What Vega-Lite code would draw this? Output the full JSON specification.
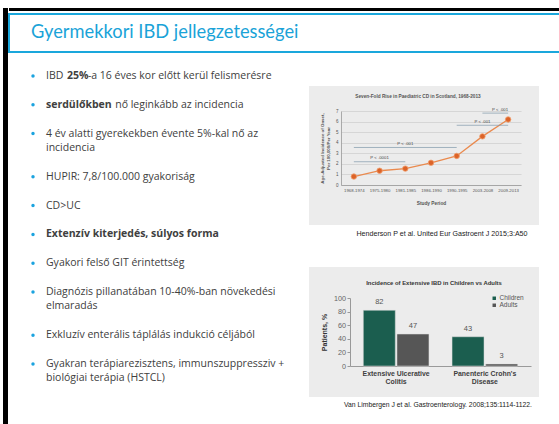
{
  "$schema": "https://vega.github.io/schema/vega-lite/v6.json",
  "padding": {"left": 3, "top": 8, "right": 0, "bottom": 0},
  "background": "#ffffff",
  "config": {"view": {"stroke": null}, "axis": {"labelOverlap": false, "labelBound": false}},
  "datasets": {
    "heading": [{"text": "Gyermekkori IBD jellegzetességei", "col": 4}],
    "bullets": [{"line": 0}, {"line": 2}, {"line": 4}, {"line": 7}, {"line": 9}, {"line": 11}, {"line": 13}, {"line": 15}, {"line": 18}, {"line": 20}],
    "lines": [
      {"line": 0, "col": 12.33, "text": "IBD", "bold": false},
      {"line": 0, "col": 19.33, "text": "25%", "bold": true},
      {"line": 0, "col": 26.3, "text": "-a 16 éves kor előtt kerül felismerésre", "bold": false},
      {"line": 2, "col": 12.33, "text": "serdülőkben", "bold": true},
      {"line": 2, "col": 35.4, "text": "nő leginkább az incidencia", "bold": false},
      {"line": 4, "col": 12.33, "text": "4 év alatti gyerekekben évente 5%-kal nő az", "bold": false},
      {"line": 5, "col": 12.33, "text": "incidencia", "bold": false},
      {"line": 7, "col": 12.33, "text": "HUPIR: 7,8/100.000 gyakoriság", "bold": false},
      {"line": 9, "col": 12.33, "text": "CD>UC", "bold": false},
      {"line": 11, "col": 12.33, "text": "Extenzív kiterjedés, súlyos forma", "bold": true},
      {"line": 13, "col": 12.33, "text": "Gyakori felső GIT érintettség", "bold": false},
      {"line": 15, "col": 12.33, "text": "Diagnózis pillanatában 10-40%-ban növekedési", "bold": false},
      {"line": 16, "col": 12.33, "text": "elmaradás", "bold": false},
      {"line": 18, "col": 12.33, "text": "Exkluzív enterális táplálás indukció céljából", "bold": false},
      {"line": 20, "col": 12.33, "text": "Gyakran terápiarezisztens, immunszuppressziv +", "bold": false},
      {"line": 21, "col": 12.33, "text": "biológiai terápia (HSTCL)", "bold": false}
    ],
    "cd": [
      {"period": "1968-1974", "v": 0.8},
      {"period": "1975-1980", "v": 1.35},
      {"period": "1981-1985", "v": 1.55},
      {"period": "1986-1990", "v": 2.1},
      {"period": "1990-1995", "v": 2.75},
      {"period": "2003-2008", "v": 4.6},
      {"period": "2009-2013", "v": 6.2}
    ],
    "pvals": [
      {"from": "1968-1974", "to": "1981-1985", "y": 2.2, "label": "P < .0001", "at": "1975-1980"},
      {"from": "1968-1974", "to": "1990-1995", "y": 3.55, "label": "P < .001", "at": "1981-1985"},
      {"from": "1990-1995", "to": "2009-2013", "y": 5.65, "label": "P < .001", "at": "2003-2008"},
      {"from": "2003-2008", "to": "2009-2013", "y": 6.8, "label": "P < .001", "at": "2009-2013"}
    ],
    "cdtitle": [{"text": "Seven-Fold Rise in Paediatric CD in Scotland, 1968-2013"}],
    "ibdtitle": [{"text": "Incidence of Extensive IBD in Children vs Adults"}],
    "ibd": [
      {"type": "Extensive Ulcerative Colitis", "group": "Children", "pct": 82},
      {"type": "Extensive Ulcerative Colitis", "group": "Adults", "pct": 47},
      {"type": "Panenteric Crohn's Disease", "group": "Children", "pct": 43},
      {"type": "Panenteric Crohn's Disease", "group": "Adults", "pct": 3}
    ]
  },
  "spacing": 0,
  "hconcat": [
    {
      "width": 5, "height": 416,
      "view": {"fill": "#000000", "stroke": null},
      "data": {"values": []},
      "mark": "point",
      "encoding": {}
    },
    {
      "spacing": 2,
      "vconcat": [
        {
          "width": 551, "height": 3,
          "view": {"fill": "#000000", "stroke": null},
          "data": {"values": []},
          "mark": "point",
          "encoding": {}
        },
        {
          "width": 551, "height": 38,
          "view": {"stroke": "#1aa7dc", "strokeWidth": 2, "fill": null},
          "data": {"name": "heading"},
          "mark": {"type": "text", "align": "left", "baseline": "middle", "font": "Lato", "fontSize": 18.3, "color": "#1aa3d8"},
          "encoding": {
            "x": {"field": "col", "type": "quantitative", "scale": {"domain": [0, 100], "nice": false}, "axis": null},
            "text": {"field": "text"}
          }
        },
        {
          "spacing": 0,
          "hconcat": [
            {
              "width": 300, "height": 371,
              "layer": [
                {
                  "data": {"name": "bullets"},
                  "mark": {"type": "point", "filled": true, "color": "#1ba3df", "size": 12, "opacity": 1},
                  "encoding": {
                    "x": {"datum": 8, "type": "quantitative", "scale": {"domain": [0, 100], "nice": false, "zero": false}, "axis": null},
                    "y": {"field": "line", "type": "quantitative", "scale": {"domain": [-1.458, 24.306], "reverse": true, "nice": false, "zero": false}, "axis": null}
                  }
                },
                {
                  "data": {"name": "lines"},
                  "transform": [{"filter": "!datum.bold"}],
                  "mark": {"type": "text", "align": "left", "baseline": "middle", "font": "Open Sans", "fontSize": 10.5, "color": "#404040"},
                  "encoding": {
                    "x": {"field": "col", "type": "quantitative"},
                    "y": {"field": "line", "type": "quantitative"},
                    "text": {"field": "text"}
                  }
                },
                {
                  "data": {"name": "lines"},
                  "transform": [{"filter": "datum.bold"}],
                  "mark": {"type": "text", "align": "left", "baseline": "middle", "font": "Open Sans", "fontSize": 10.5, "fontWeight": "bold", "color": "#404040"},
                  "encoding": {
                    "x": {"field": "col", "type": "quantitative"},
                    "y": {"field": "line", "type": "quantitative"},
                    "text": {"field": "text"}
                  }
                }
              ]
            },
            {
              "spacing": 29,
              "vconcat": [
                {
                  "width": 1, "height": 2,
                  "data": {"values": []},
                  "mark": "point",
                  "encoding": {}
                },
                {
                  "width": 230, "height": 139,
                  "view": {"fill": "#ececec", "stroke": null},
                  "title": {"text": "Henderson P et al. United Eur Gastroent J 2015;3:A50", "orient": "bottom", "anchor": "middle", "font": "Liberation Sans", "fontSize": 7.1, "fontWeight": "normal", "color": "#1a1a1a", "offset": 5, "dx": 18},
                  "layer": [
                    {
                      "data": {"name": "cd"},
                      "mark": {"type": "line", "color": "#ea8a4e", "strokeWidth": 1.3},
                      "encoding": {
                        "x": {"field": "period", "type": "ordinal", "sort": null,
                          "scale": {"type": "point", "domain": ["1968-1974", "1975-1980", "1981-1985", "1986-1990", "1990-1995", "2003-2008", "2009-2013"], "range": [32, 212], "padding": 0.5},
                          "axis": {"offset": -40, "labelAngle": 0, "labelFont": "Liberation Sans", "labelFontSize": 4.3, "labelColor": "#555555", "labelOverlap": false, "ticks": false, "labelPadding": 3, "domainColor": "#999999", "domainWidth": 0.8, "grid": false,
                            "title": "Study Period", "titleFont": "Liberation Sans", "titleFontSize": 4.8, "titleFontWeight": "bold", "titleColor": "#555555", "titlePadding": 8}},
                        "y": {"field": "v", "type": "quantitative",
                          "scale": {"domain": [0, 7], "range": [99, 25], "nice": false},
                          "axis": {"offset": -32, "values": [0, 1, 2, 3, 4, 5, 6, 7], "tickCount": 8, "labelFont": "Liberation Sans", "labelFontSize": 4.5, "labelColor": "#555555", "labelOverlap": false, "ticks": false, "labelPadding": 3, "domainColor": "#999999", "domainWidth": 0.8,
                            "grid": true, "gridColor": "#c8c8c8", "gridWidth": 0.6,
                            "title": ["Age-Adjusted Incidence of Onset,", "Per 100,000/Per Year"], "titleFont": "Liberation Sans", "titleFontSize": 4.4, "titleFontWeight": "bold", "titleColor": "#555555", "titlePadding": 5, "titleLineHeight": 5.5}}
                      }
                    },
                    {
                      "data": {"name": "cd"},
                      "mark": {"type": "point", "filled": true, "color": "#dc6328", "stroke": "#f0a070", "strokeWidth": 0.8, "size": 30, "opacity": 1},
                      "encoding": {
                        "x": {"field": "period", "type": "ordinal"},
                        "y": {"field": "v", "type": "quantitative"}
                      }
                    },
                    {
                      "data": {"name": "pvals"},
                      "mark": {"type": "rule", "color": "#7f98aa", "strokeWidth": 0.7},
                      "encoding": {
                        "x": {"field": "from", "type": "ordinal"},
                        "x2": {"field": "to"},
                        "y": {"field": "y", "type": "quantitative"}
                      }
                    },
                    {
                      "data": {"name": "pvals"},
                      "transform": [{"filter": "datum.y < 6"}],
                      "mark": {"type": "text", "font": "Liberation Sans", "fontSize": 4.3, "color": "#444444", "baseline": "bottom", "dy": -1.5},
                      "encoding": {
                        "x": {"field": "at", "type": "ordinal"},
                        "y": {"field": "y", "type": "quantitative"},
                        "text": {"field": "label"}
                      }
                    },
                    {
                      "data": {"name": "pvals"},
                      "transform": [{"filter": "datum.y >= 6"}],
                      "mark": {"type": "text", "font": "Liberation Sans", "fontSize": 4.3, "color": "#444444", "baseline": "bottom", "align": "right", "dy": -1.5},
                      "encoding": {
                        "x": {"field": "at", "type": "ordinal"},
                        "y": {"field": "y", "type": "quantitative"},
                        "text": {"field": "label"}
                      }
                    },
                    {
                      "data": {"name": "cdtitle"},
                      "mark": {"type": "text", "font": "Liberation Sans", "fontSize": 4.7, "fontWeight": "bold", "color": "#555555", "baseline": "middle", "dx": -6},
                      "encoding": {
                        "y": {"datum": 8.32, "type": "quantitative"},
                        "text": {"field": "text"}
                      }
                    }
                  ]
                },
                {
                  "width": 230, "height": 130,
                  "view": {"fill": "#ececec", "stroke": null},
                  "title": {"text": "Van Limbergen J et al. Gastroenterology. 2008;135:1114-1122.", "orient": "bottom", "anchor": "middle", "font": "Liberation Sans", "fontSize": 6.8, "fontWeight": "normal", "color": "#1a1a1a", "offset": 5, "dx": 14},
                  "layer": [
                    {
                      "data": {"name": "ibd"},
                      "mark": {"type": "bar", "stroke": "#dcdcdc", "strokeWidth": 0.5},
                      "encoding": {
                        "x": {"field": "type", "type": "nominal", "sort": null,
                          "scale": {"range": [41, 222], "paddingInner": 0.26, "paddingOuter": 0.15},
                          "axis": {"offset": -31, "title": null, "ticks": false, "domainColor": "#9a9a9a", "labelAngle": 0, "labelFont": "Liberation Sans", "labelFontWeight": "bold", "labelFontSize": 6.9, "labelColor": "#404040", "labelPadding": 4, "labelLineHeight": 8.5,
                            "labelExpr": "[slice(datum.label, 0, lastindexof(datum.label, ' ')), slice(datum.label, lastindexof(datum.label, ' ') + 1)]"}},
                        "xOffset": {"field": "group", "sort": ["Children", "Adults"], "scale": {"paddingInner": 0.05}},
                        "y": {"field": "pct", "type": "quantitative",
                          "scale": {"domain": [0, 100], "range": [99, 31], "nice": false},
                          "axis": {"offset": -41, "values": [0, 20, 40, 60, 80, 100], "tickCount": 6, "labelOverlap": false, "grid": false, "tickSize": 3, "tickColor": "#999999", "domainColor": "#999999", "labelFont": "Liberation Sans", "labelFontSize": 7.2, "labelColor": "#666666", "labelPadding": 1.5,
                            "title": "Patients, %", "titleFont": "Liberation Sans", "titleFontSize": 7, "titleFontWeight": "bold", "titleColor": "#333333", "titlePadding": 6}},
                        "color": {"field": "group", "type": "nominal",
                          "scale": {"domain": ["Children", "Adults"], "range": ["#1b5e4f", "#565656"]},
                          "legend": {"orient": "none", "legendX": 488, "legendY": 287, "title": null, "symbolType": "square", "symbolSize": 12, "symbolStrokeWidth": 0, "labelFont": "Liberation Sans", "labelFontSize": 6.5, "labelColor": "#555555", "rowPadding": 0, "labelOffset": 2}}
                      }
                    },
                    {
                      "data": {"name": "ibd"},
                      "mark": {"type": "text", "font": "Liberation Sans", "fontSize": 7.5, "color": "#555555", "baseline": "bottom", "dy": -4},
                      "encoding": {
                        "x": {"field": "type", "type": "nominal", "sort": null},
                        "xOffset": {"field": "group", "sort": ["Children", "Adults"]},
                        "y": {"field": "pct", "type": "quantitative"},
                        "text": {"field": "pct", "type": "quantitative"}
                      }
                    },
                    {
                      "data": {"name": "ibdtitle"},
                      "mark": {"type": "text", "font": "Liberation Sans", "fontSize": 5.9, "fontWeight": "bold", "color": "#333333", "baseline": "middle", "dx": 10},
                      "encoding": {
                        "y": {"datum": 122, "type": "quantitative"},
                        "text": {"field": "text"}
                      }
                    }
                  ]
                }
              ]
            }
          ]
        }
      ]
    }
  ]
}
